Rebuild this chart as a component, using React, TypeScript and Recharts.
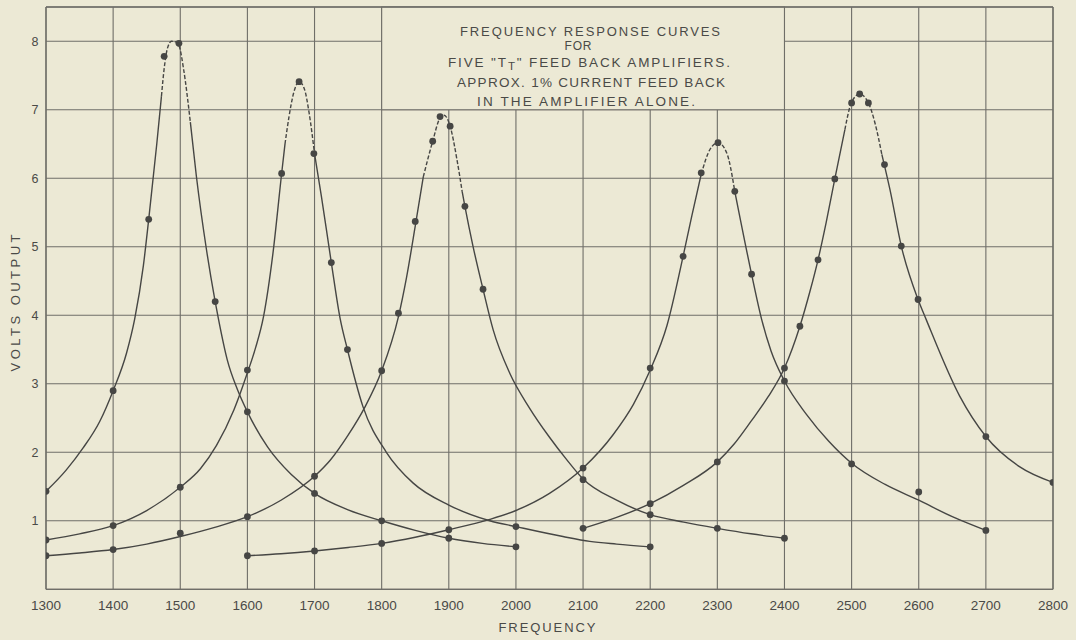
import {
  ComposedChart,
  Line,
  Scatter,
  XAxis,
  YAxis,
  CartesianGrid,
  ReferenceArea,
  ReferenceLine,
} from "recharts";

const freqTicks = [1300, 1400, 1500, 1600, 1700, 1800, 1900, 2000, 2100, 2200, 2300, 2400, 2500, 2600, 2700, 2800];
const voltTicks = [0, 1, 2, 3, 4, 5, 6, 7, 8];

// drawn curves as [frequency, volts]
const curve1 = [
  [1300, 1.43], [1330, 1.74], [1355, 2.06], [1380, 2.45], [1400, 2.9], [1420, 3.45], [1432, 3.94],
  [1445, 4.72], [1453, 5.4], [1465, 6.5], [1472, 7.2], [1476, 7.6], [1481, 7.9], [1487, 8.0],
  [1493, 7.99], [1498, 7.94], [1505, 7.59], [1515, 6.82], [1524, 6.03], [1539, 4.96], [1552, 4.2],
  [1557, 3.94], [1570, 3.35], [1585, 2.92], [1600, 2.59], [1630, 2.08], [1665, 1.68], [1700, 1.4],
  [1750, 1.16], [1800, 1.0], [1850, 0.86], [1900, 0.745], [1950, 0.67], [2000, 0.62],
];
const curve2 = [
  [1300, 0.72], [1350, 0.81], [1400, 0.93], [1450, 1.15], [1500, 1.49], [1530, 1.76], [1554, 2.1],
  [1580, 2.62], [1600, 3.16], [1612, 3.52], [1624, 3.98], [1638, 4.9], [1651, 6.07], [1656, 6.5],
  [1662, 6.9], [1669, 7.25], [1677, 7.41], [1685, 7.3], [1692, 6.95], [1700, 6.36], [1710, 5.75],
  [1725, 4.77], [1738, 3.96], [1749, 3.5], [1772, 2.67], [1807, 2.0], [1847, 1.55], [1900, 1.23],
  [1961, 1.0], [2000, 0.915], [2070, 0.77], [2110, 0.7], [2150, 0.66], [2200, 0.62],
];
const curve3 = [
  [1300, 0.49], [1350, 0.53], [1400, 0.58], [1450, 0.66], [1500, 0.77], [1550, 0.9], [1600, 1.06],
  [1650, 1.3], [1700, 1.65], [1723, 1.88], [1750, 2.25], [1775, 2.66], [1800, 3.19], [1825, 3.98],
  [1837, 4.55], [1850, 5.3], [1862, 6.02], [1876, 6.54], [1887, 6.88], [1893, 6.92], [1902, 6.76],
  [1912, 6.28], [1920, 5.8], [1924, 5.59], [1936, 5.01], [1951, 4.38], [1966, 3.79], [1991, 3.15],
  [2020, 2.65], [2050, 2.22], [2075, 1.9], [2100, 1.61], [2150, 1.3], [2200, 1.09], [2250, 0.98],
  [2300, 0.89], [2350, 0.81], [2400, 0.745],
];
const curve4 = [
  [1600, 0.49], [1650, 0.52], [1700, 0.56], [1750, 0.61], [1800, 0.67], [1850, 0.76], [1900, 0.87],
  [1961, 1.02], [2000, 1.15], [2050, 1.4], [2100, 1.77], [2145, 2.26], [2175, 2.7], [2200, 3.2],
  [2225, 3.85], [2249, 4.86], [2262, 5.45], [2276, 6.06], [2289, 6.42], [2301, 6.52], [2314, 6.37],
  [2326, 5.81], [2351, 4.6], [2366, 3.94], [2380, 3.48], [2400, 3.04], [2433, 2.55], [2466, 2.16],
  [2500, 1.84], [2550, 1.53], [2600, 1.3], [2650, 1.06], [2700, 0.86],
];
const curve5 = [
  [2100, 0.89], [2150, 1.05], [2200, 1.25], [2250, 1.52], [2300, 1.86], [2325, 2.12], [2350, 2.45],
  [2375, 2.8], [2400, 3.23], [2423, 3.84], [2438, 4.35], [2450, 4.81], [2462, 5.35], [2475, 5.99],
  [2490, 6.71], [2500, 7.11], [2512, 7.23], [2525, 7.1], [2535, 6.8], [2545, 6.35], [2557, 5.84],
  [2574, 5.01], [2599, 4.23], [2611, 3.94], [2661, 2.82], [2700, 2.23], [2750, 1.79], [2800, 1.56],
];

// plotted readings
const points1 = [
  [1300, 1.43], [1400, 2.9], [1453, 5.4], [1476, 7.78], [1498, 7.97], [1552, 4.2], [1600, 2.59],
  [1700, 1.4], [1800, 1.0], [1900, 0.745], [2000, 0.62],
];
const points2 = [
  [1300, 0.72], [1400, 0.93], [1500, 1.49], [1600, 3.2], [1651, 6.07], [1677, 7.41], [1699, 6.36],
  [1725, 4.77], [1749, 3.5], [2000, 0.915], [2200, 0.62],
];
const points3 = [
  [1300, 0.49], [1400, 0.58], [1500, 0.82], [1600, 1.06], [1700, 1.65], [1800, 3.19], [1825, 4.03],
  [1850, 5.37], [1876, 6.54], [1887, 6.9], [1902, 6.76], [1924, 5.59], [1951, 4.38], [2100, 1.6],
  [2200, 1.09], [2300, 0.89], [2400, 0.745],
];
const points4 = [
  [1600, 0.49], [1700, 0.56], [1800, 0.67], [1900, 0.87], [2100, 1.77], [2200, 3.23], [2249, 4.86],
  [2276, 6.08], [2301, 6.52], [2326, 5.81], [2351, 4.6], [2400, 3.04], [2500, 1.83], [2600, 1.42],
  [2700, 0.86],
];
const points5 = [
  [2100, 0.89], [2200, 1.25], [2300, 1.86], [2400, 3.23], [2423, 3.84], [2450, 4.81], [2475, 5.99],
  [2500, 7.1], [2512, 7.23], [2525, 7.1], [2549, 6.2], [2574, 5.01], [2599, 4.23], [2700, 2.23],
  [2800, 1.56],
];

const curves = [curve1, curve2, curve3, curve4, curve5];
const pointSets = [points1, points2, points3, points4, points5];
// the top of each peak is drawn broken
const dashSpans = [[1472, 1515], [1656, 1700], [1862, 1920], [2276, 2326], [2490, 2545]];

const titleLines = [
  "FREQUENCY RESPONSE CURVES",
  "FOR",
  "FIVE \"T",
  "T",
  "\" FEED BACK AMPLIFIERS.",
  "APPROX. 1% CURRENT FEED BACK",
  "IN THE AMPLIFIER ALONE.",
];

const PAPER = "#ECE9D5";
const INK = "#464644";
const GRID = "#6f6e68";
const TEXT = "#4a4a47";
const FONT = "'Liberation Sans', Arial, sans-serif";

const toRow = ([f, v]: number[]) => ({ f, v });

function pieces(trace: number[][], span: number[]) {
  const [lo, hi] = span;
  return {
    left: trace.filter(([f]) => f <= lo).map(toRow),
    top: trace.filter(([f]) => f >= lo && f <= hi).map(toRow),
    right: trace.filter(([f]) => f >= hi).map(toRow),
  };
}

const YTick = ({ y, payload }: any) =>
  payload.value === 0 ? null : (
    <text x={35} y={y + 4.5} textAnchor="middle" fontSize={12.5} fontFamily={FONT} fill={TEXT}>
      {payload.value}
    </text>
  );

const XTick = ({ x, payload }: any) => (
  <text x={x} y={610} textAnchor="middle" fontSize={13.5} fontFamily={FONT} fill={TEXT}>
    {payload.value}
  </text>
);

const Dot = (p: any) => <circle cx={p.cx} cy={p.cy} r={3.4} fill={INK} />;

export default function App() {
  const split = curves.map((c, i) => pieces(c, dashSpans[i]));
  return (
    <div style={{ position: "relative", width: 1076, height: 640, background: PAPER }}>
      <style>{`body{margin:0;background:${PAPER}}`}</style>
      <ComposedChart width={1076} height={640} margin={{ top: 7, right: 23, bottom: 0, left: 0 }}>
        <CartesianGrid stroke={GRID} strokeWidth={1.1} />
        <XAxis
          dataKey="f"
          type="number"
          domain={[1300, 2800]}
          ticks={freqTicks}
          allowDataOverflow
          height={50.7}
          axisLine={{ stroke: GRID, strokeWidth: 1.3 }}
          tickLine={false}
          tick={<XTick />}
          interval={0}
        />
        <YAxis
          dataKey="v"
          type="number"
          domain={[0, 8.5]}
          ticks={voltTicks}
          allowDataOverflow
          width={46}
          axisLine={{ stroke: GRID, strokeWidth: 1.3 }}
          tickLine={false}
          tick={<YTick />}
          interval={0}
        />
        <ReferenceArea x1={1800} x2={2400} y1={7} y2={8.5} fill={PAPER} fillOpacity={1} stroke={GRID} strokeWidth={1.1} />
        <ReferenceLine y={8.5} stroke={GRID} strokeWidth={1.3} />
        <ReferenceLine x={2800} stroke={GRID} strokeWidth={1.3} />
        {split.map((s, i) => [
          <Line key={`l${i}`} data={s.left} dataKey="v" type="monotone" stroke={INK} strokeWidth={1.4}
            dot={false} activeDot={false} isAnimationActive={false} />,
          <Line key={`t${i}`} data={s.top} dataKey="v" type="monotone" stroke={INK} strokeWidth={1.4}
            strokeDasharray="4 2" dot={false} activeDot={false} isAnimationActive={false} />,
          <Line key={`r${i}`} data={s.right} dataKey="v" type="monotone" stroke={INK} strokeWidth={1.4}
            dot={false} activeDot={false} isAnimationActive={false} />,
        ])}
        {pointSets.map((p, i) => (
          <Scatter key={`p${i}`} data={p.map(toRow)} dataKey="v" shape={<Dot />} isAnimationActive={false} />
        ))}
      </ComposedChart>
      <svg width={1076} height={640} style={{ position: "absolute", left: 0, top: 0, pointerEvents: "none" }}>
        <g fontFamily={FONT} fill={TEXT}>
          <text x={590} y={35.5} fontSize={13} textAnchor="middle" textLength={260} lengthAdjust="spacing">{titleLines[0]}</text>
          <text x={578} y={49.5} fontSize={12} textAnchor="middle" textLength={27} lengthAdjust="spacing">{titleLines[1]}</text>
          <text x={589} y={66.5} fontSize={13.5} textAnchor="middle" textLength={282} lengthAdjust="spacing">
            {titleLines[2]}
            <tspan dy={3} fontSize={11.5}>{titleLines[3]}</tspan>
            <tspan dy={-3}>{titleLines[4]}</tspan>
          </text>
          <text x={591} y={87} fontSize={13.5} textAnchor="middle" textLength={268} lengthAdjust="spacing">{titleLines[5]}</text>
          <text x={586} y={106} fontSize={13.5} textAnchor="middle" textLength={218} lengthAdjust="spacing">{titleLines[6]}</text>
        </g>
        <text x={547} y={632} textAnchor="middle" fontFamily={FONT} fontSize={13} fill={TEXT}
          textLength={97} lengthAdjust="spacing">FREQUENCY</text>
        <text x={20} y={303} textAnchor="middle" fontFamily={FONT} fontSize={13} fill={TEXT}
          textLength={137} lengthAdjust="spacing" transform="rotate(-90 20 303)">VOLTS OUTPUT</text>
      </svg>
    </div>
  );
}
